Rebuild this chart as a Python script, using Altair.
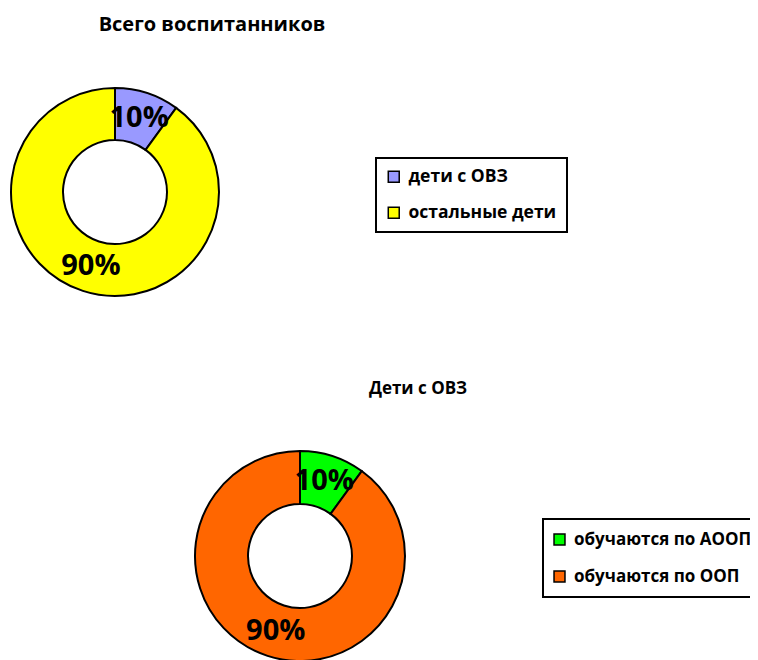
import altair as alt
import pandas as pd

# ---- data ----
title1 = "Всего воспитанников"
cats1 = ["дети с ОВЗ", "остальные дети"]
vals1 = [10, 90]
labels1 = ["10%", "90%"]
colors1 = ["#9999FF", "#FFFF00"]

title2 = "Дети с ОВЗ"
cats2 = ["обучаются по АООП", "обучаются по ООП"]
vals2 = [10, 90]
labels2 = ["10%", "90%"]
colors2 = ["#00FF00", "#FF6600"]

FONT = "Open Sans"

df1 = pd.DataFrame({"cat": cats1, "val": vals1, "lab": labels1})
df2 = pd.DataFrame({"cat": cats2, "val": vals2, "lab": labels2})


def donut(df, colors, cx, cy, r_in, r_out, lx, ly, pad, rowpad, symoff, fs):
    base = alt.Chart(df).encode(
        theta=alt.Theta("val:Q", stack=True),
        order=alt.Order("cat:N", sort="ascending"),
    )
    arc = base.mark_arc(
        x=cx, y=cy, innerRadius=r_in, outerRadius=r_out,
        stroke="black", strokeWidth=2,
    ).encode(
        color=alt.Color(
            "cat:N",
            scale=alt.Scale(domain=list(df["cat"]), range=colors),
            legend=alt.Legend(
                title=None, orient="none", legendX=lx, legendY=ly,
                symbolType="square", symbolSize=120,
                symbolStrokeColor="black", symbolStrokeWidth=1.5,
                labelFont=FONT, labelFontSize=fs, labelFontWeight="bold",
                labelColor="black", labelLimit=400,
                rowPadding=rowpad, strokeColor="black", padding=pad,
                fillColor="white", symbolOffset=symoff, labelOffset=6,
            ),
        ),
    )
    txt = base.mark_text(
        x=cx, y=cy, radius=(r_in + r_out) / 2, font=FONT, fontSize=29,
        fontWeight="bold", color="black",
    ).encode(text="lab:N")
    return arc, txt


arc1, txt1 = donut(df1, colors1, 107, 184, 52, 104, 368, 150, 10, 17, -1, 17.5)
arc2, txt2 = donut(df2, colors2, 292, 548, 52, 105, 535, 511, 12, 19, -4, 17)

t1 = alt.Chart(pd.DataFrame({"t": [title1]})).mark_text(
    x=204, y=17, font=FONT, fontSize=20, fontWeight="bold", color="black"
).encode(text="t:N")
t2 = alt.Chart(pd.DataFrame({"t": [title2]})).mark_text(
    x=410, y=381, font=FONT, fontSize=17, fontWeight="bold", color="black"
).encode(text="t:N")

chart = (
    alt.layer(arc1, txt1, arc2, txt2, t1, t2)
    .resolve_scale(color="independent", theta="independent")
    .properties(width=742, height=652, autosize=alt.AutoSizeParams(type="none"), padding=0)
    .configure_view(stroke=None)
    .configure_legend(strokeWidth=2)
)

chart.save("out.html", embed_options={"renderer": "svg", "actions": False})
